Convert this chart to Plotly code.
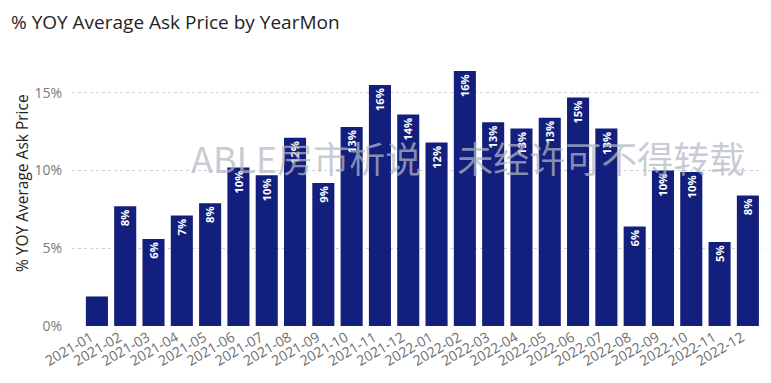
import plotly.graph_objects as go

months = ["2021-01", "2021-02", "2021-03", "2021-04", "2021-05", "2021-06",
          "2021-07", "2021-08", "2021-09", "2021-10", "2021-11", "2021-12",
          "2022-01", "2022-02", "2022-03", "2022-04", "2022-05", "2022-06",
          "2022-07", "2022-08", "2022-09", "2022-10", "2022-11", "2022-12"]
yoy_pct = [1.9, 7.7, 5.6, 7.1, 7.9, 10.2, 9.7, 12.1, 9.2, 12.8, 15.5, 13.6,
           11.8, 16.4, 13.1, 12.7, 13.4, 14.7, 12.7, 6.4, 10.0, 9.9, 5.4, 8.4]
y_ticks = [0, 5, 10, 15]
y_tick_labels = ["0%", "5%", "10%", "15%"]

labels = [f"{round(v):.0f}%" if v >= 3 else "" for v in yoy_pct]

# page body has an 8px margin, so the figure is sized to fit the window
OFF = 8
W, H = 771 - OFF, 383 - 2 * OFF
L, R, T, B = 72 - OFF, 5, 60 - OFF, H - (326 - OFF)
pw = W - L - R
ph = H - T - B

fig = go.Figure()
fig.add_trace(go.Bar(
    x=months, y=yoy_pct,
    marker=dict(color="#131F7C", line=dict(width=0)),
    text=labels,
    textposition="inside",
    insidetextanchor="end",
    textangle=-90,
    textfont=dict(family="Open Sans", size=12, color="white", weight="bold"),
    hoverinfo="x+y",
))

fig.update_layout(
    width=W, height=H,
    margin=dict(l=L, r=R, t=T, b=B, autoexpand=False),
    paper_bgcolor="white", plot_bgcolor="white",
    bargap=0.22,
    showlegend=False,
    annotations=[
        dict(text="% YOY Average Ask Price by YearMon",
             xref="paper", x=(2 - L) / pw, xanchor="left",
             yref="paper", y=(ph + T - 13.5) / ph, yanchor="middle",
             showarrow=False, borderpad=0,
             font=dict(family="Open Sans", size=19, color="#252423")),
        dict(text="ABLE房市析说　未经许可不得转载",
             xref="paper", x=(468 - OFF - L) / pw, xanchor="center",
             yref="paper", y=(326 - 157) / ph, yanchor="middle",
             showarrow=False,
             font=dict(family="Noto Sans CJK SC", size=36,
                       color="rgba(180,183,195,0.72)")),
        dict(text="% YOY Average Ask Price",
             xref="paper", x=(1 - L) / pw, xanchor="left",
             yref="paper", y=(326 - 183) / ph, yanchor="middle",
             textangle=-90, showarrow=False,
             font=dict(family="Open Sans", size=15.5, color="#252423")),
    ],
)

fig.update_xaxes(
    type="category",
    range=[-0.88, 23.64],
    tickangle=-30,
    tickfont=dict(family="Open Sans", size=14, color="#6E6E6E"),
    ticklabelshift=-6,
    showgrid=False, zeroline=False, showline=False, ticks="",
    automargin=False,
)
fig.update_yaxes(
    range=[0, ph / 15.55],
    tickvals=y_ticks, ticktext=y_tick_labels,
    tickfont=dict(family="Open Sans", size=14, color="#7A7A7A"),
    ticklabelstandoff=9,
    showgrid=True, gridcolor="#D0D0D0", griddash="dot", gridwidth=1,
    zeroline=False, showline=False, ticks="", ticklen=0,
    automargin=False,
)

fig.write_html("out.html")
